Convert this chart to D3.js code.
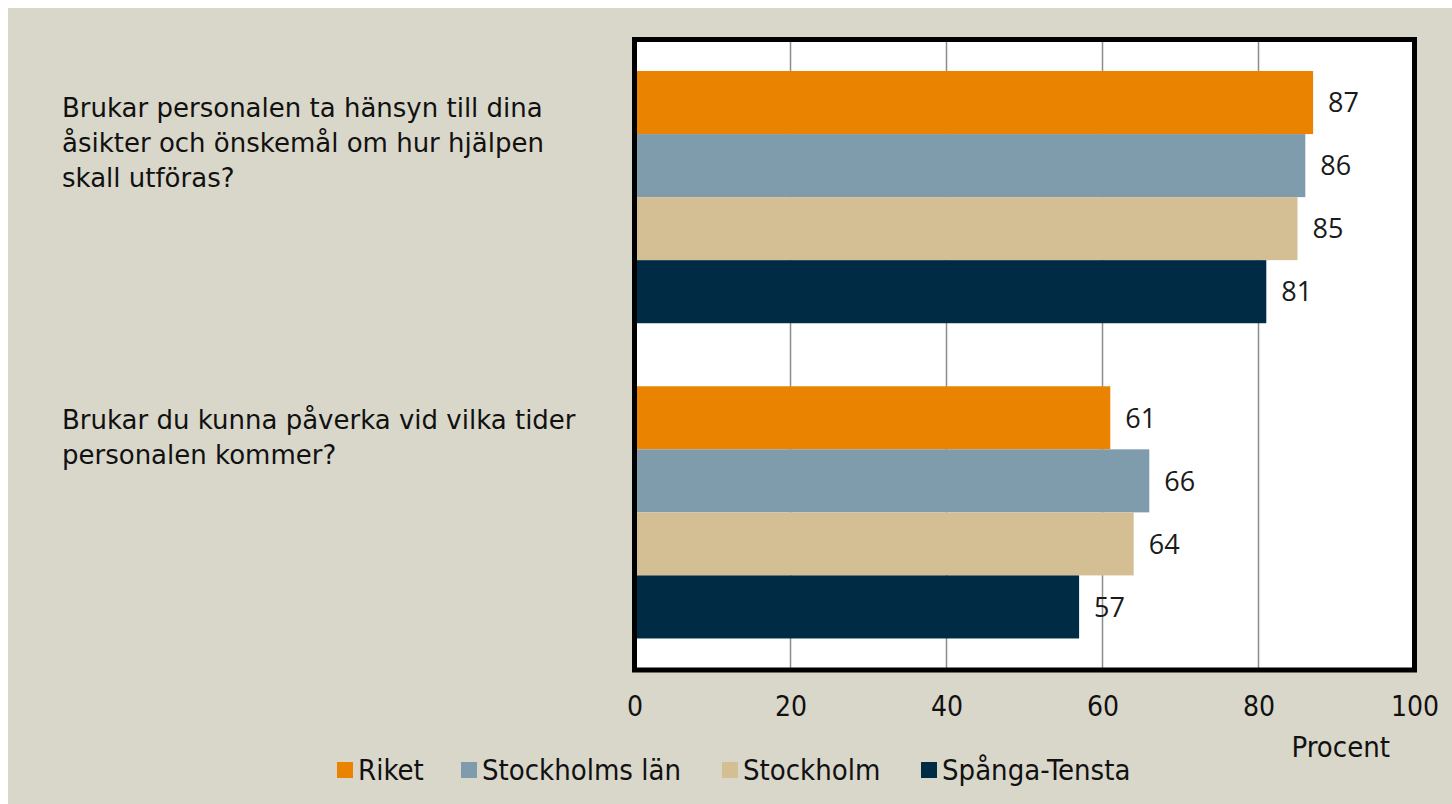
<!DOCTYPE html>
<html>
<head>
<meta charset="utf-8">
<script src="https://cdn.jsdelivr.net/npm/d3@7"></script>
<style>
  body { margin: 0; background: #fff; }
  svg { display: block; }
</style>
</head>
<body>
<svg id="chart" width="1452" height="804"></svg>
<script>
var questions = [
  ["Brukar personalen ta hänsyn till dina", "åsikter och önskemål om hur hjälpen", "skall utföras?"],
  ["Brukar du kunna påverka vid vilka tider", "personalen kommer?"]
];
var seriesNames = ["Riket", "Stockholms län", "Stockholm", "Spånga-Tensta"];
var seriesColors = ["#e98300", "#7f9cad", "#d4bf95", "#002b45"];
var values = [
  [87, 86, 85, 81],
  [61, 66, 64, 57]
];
var xTicks = [0, 20, 40, 60, 80, 100];

var svg = d3.select("#chart");

// beige panel, white strip top/left
svg.append("rect").attr("x", 8).attr("y", 8).attr("width", 1444).attr("height", 796).attr("fill", "#d9d7ca");

var x = d3.scaleLinear().domain([0, 100]).range([634.5, 1414.5]);
var y0 = d3.scaleBand().domain(d3.range(questions.length)).range([39.5, 670]).paddingInner(0.2).paddingOuter(0.1);
var y1 = d3.scaleBand().domain(d3.range(seriesNames.length)).range([0, y0.bandwidth()]);

// plot bg
svg.append("rect")
  .attr("x", x(0)).attr("y", 39.5)
  .attr("width", x(100) - x(0)).attr("height", 670 - 39.5)
  .attr("fill", "#fff");

// grid
svg.append("g").selectAll("line")
  .data(xTicks.slice(1, -1))
  .enter().append("line")
  .attr("x1", function(d){ return x(d); })
  .attr("x2", function(d){ return x(d); })
  .attr("y1", 39.5).attr("y2", 670)
  .attr("stroke", "#8c8c8c").attr("stroke-width", 1.5);

// bars
var groups = svg.append("g").selectAll("g")
  .data(values)
  .enter().append("g")
  .attr("transform", function(d, i){ return "translate(0," + y0(i) + ")"; });

groups.selectAll("rect")
  .data(function(d){ return d; })
  .enter().append("rect")
  .attr("x", x(0))
  .attr("y", function(d, i){ return y1(i); })
  .attr("width", function(d){ return x(d) - x(0); })
  .attr("height", y1.bandwidth())
  .attr("fill", function(d, i){ return seriesColors[i]; });

groups.selectAll("text")
  .data(function(d){ return d; })
  .enter().append("text")
  .attr("x", function(d){ return x(d) + 15; })
  .attr("y", function(d, i){ return y1(i) + y1.bandwidth() / 2; })
  .attr("dy", "0.36em")
  .attr("font-family", "'Open Sans', sans-serif")
  .attr("font-size", 27)
  .attr("fill", "#1a1a1a")
  .text(function(d){ return d; });

// border
svg.append("rect")
  .attr("x", x(0)).attr("y", 39.5)
  .attr("width", x(100) - x(0)).attr("height", 670 - 39.5)
  .attr("fill", "none").attr("stroke", "#000").attr("stroke-width", 5);

// x axis labels
var xAxis = d3.axisBottom(x).tickValues(xTicks).tickSize(0).tickPadding(0);
var ax = svg.append("g").attr("transform", "translate(0,696)").call(xAxis);
ax.select(".domain").remove();
ax.selectAll("text")
  .attr("font-family", "'Liberation Sans Narrow', 'DejaVu Sans Condensed', sans-serif")
  .attr("font-size", 28)
  .attr("fill", "#111");

svg.append("text")
  .attr("x", 1390).attr("y", 757)
  .attr("text-anchor", "end")
  .attr("font-family", "'Liberation Sans Narrow', 'DejaVu Sans Condensed', sans-serif")
  .attr("font-size", 29)
  .attr("fill", "#111")
  .text("Procent");

// question labels
var qg = svg.append("g");
questions.forEach(function(lines, i){
  var top = i === 0 ? 108 : 420;
  qg.append("text")
    .attr("x", 62)
    .attr("font-family", "'DejaVu Sans', sans-serif")
    .attr("font-size", 26)
    .attr("fill", "#111")
    .selectAll("tspan")
    .data(lines)
    .enter().append("tspan")
    .attr("x", 62)
    .attr("y", function(d, j){ return top + j * 35; })
    .attr("dy", "0.35em")
    .text(function(d){ return d; });
});

// legend
var legendX = [337, 461, 722, 921];
var lg = svg.append("g").selectAll("g")
  .data(seriesNames)
  .enter().append("g")
  .attr("transform", function(d, i){ return "translate(" + legendX[i] + ",762)"; });
lg.append("rect").attr("width", 16).attr("height", 16)
  .attr("fill", function(d, i){ return seriesColors[i]; });
lg.append("text")
  .attr("x", 21).attr("y", 8).attr("dy", "0.36em")
  .attr("font-family", "'Liberation Sans Narrow', 'DejaVu Sans Condensed', sans-serif")
  .attr("font-size", 29)
  .attr("fill", "#111")
  .text(function(d){ return d; });
</script>
</body>
</html>
